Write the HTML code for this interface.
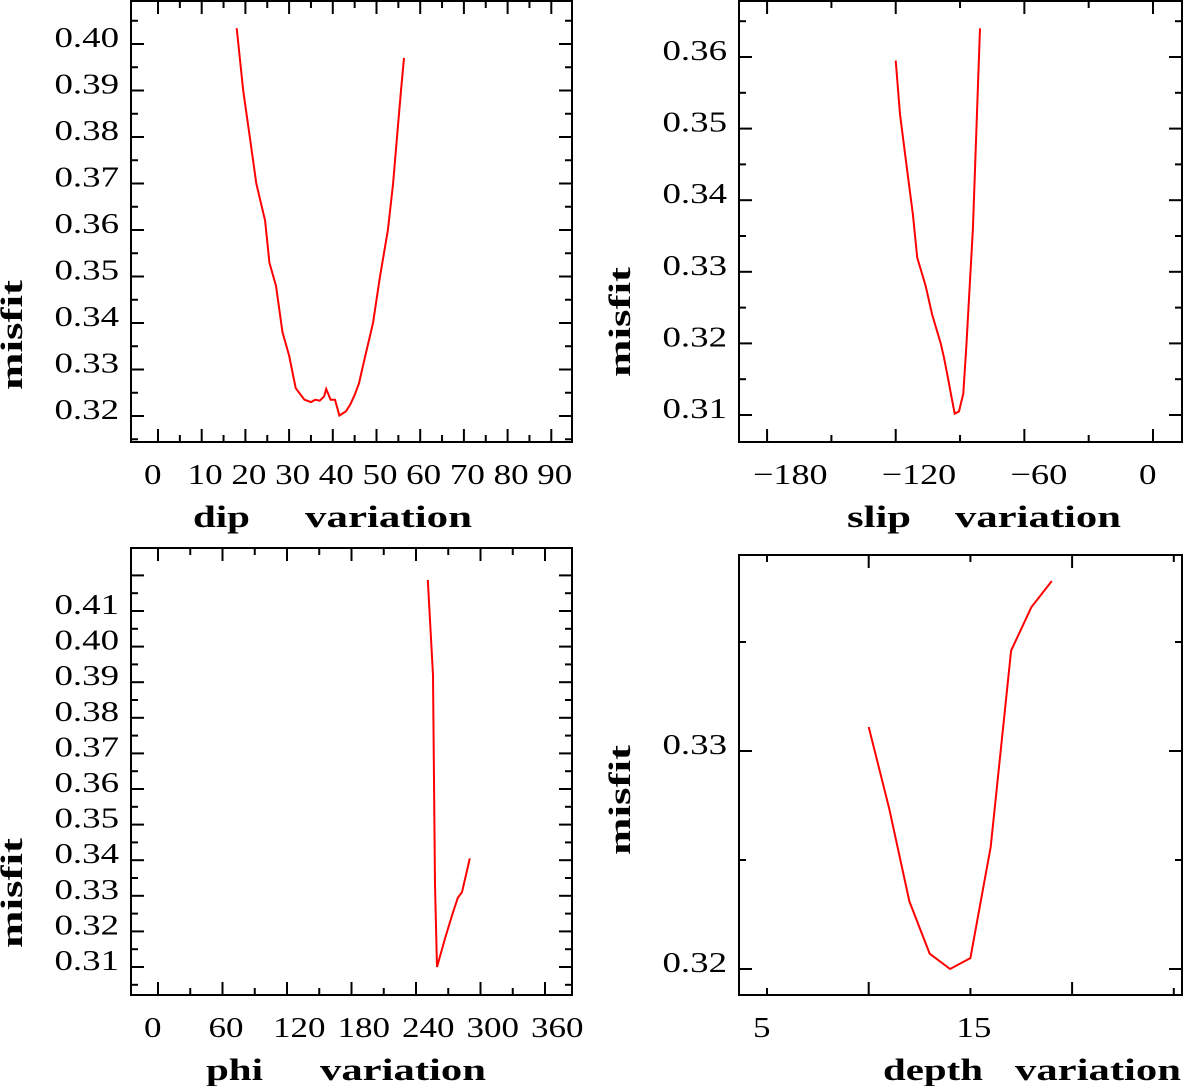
<!DOCTYPE html>
<html><head><meta charset="utf-8"><style>
html,body{margin:0;padding:0;background:#fff}
svg{display:block}
text{font-family:"Liberation Serif",serif;fill:#000}
.tl{font-size:29px}
.tt{font-size:31px;font-weight:bold}
</style></head><body>
<svg id="chart" width="1183" height="1086" viewBox="0 0 1183 1086" xmlns="http://www.w3.org/2000/svg"></svg>
<script>
// ---- Data ----
const dipX = [18,19.5,21,22.5,24.5,25.5,27,28.5,30,31.5,33.5,35,36,37,38,38.5,39.5,40.5,41.5,43,44,45,46,46.7,49.2,50.8,52.6,53.8,54.7,55.6,56.3];
const dipY = [0.4034,0.390,0.380,0.370,0.362,0.353,0.348,0.338,0.333,0.326,0.3235,0.3230,0.3235,0.3233,0.3242,0.3258,0.3235,0.3235,0.3201,0.3210,0.3225,0.3245,0.3270,0.330,0.340,0.350,0.360,0.370,0.380,0.390,0.397];
const slipX = [-120,-118,-115,-112,-110,-106,-103,-99,-97.5,-95.5,-94,-92.5,-90.5,-88.5,-87,-84,-82,-80.7];
const slipY = [0.3595,0.352,0.345,0.338,0.332,0.328,0.324,0.320,0.318,0.315,0.3125,0.3102,0.3105,0.313,0.320,0.336,0.353,0.364];
const phiX = [251,255.8,257.7,259.5,267,274,279,282.8,290];
const phiY = [0.4187,0.392,0.333,0.310,0.318,0.325,0.3295,0.331,0.3405];
const depthX = [10,11,12,13,14,15,16,17,18,19];
const depthY = [0.3311,0.3274,0.3231,0.3207,0.3200,0.3205,0.3256,0.3346,0.3366,0.3378];
const dipTicks = [0,10,20,30,40,50,60,70,80,90];
const dipYTicks = [0.40,0.39,0.38,0.37,0.36,0.35,0.34,0.33,0.32];
const slipTicks = [-180,-120,-60,0];
const slipYTicks = [0.36,0.35,0.34,0.33,0.32,0.31];
const phiTicks = [0,60,120,180,240,300,360];
const phiYTicks = [0.41,0.40,0.39,0.38,0.37,0.36,0.35,0.34,0.33,0.32,0.31];
const depthTicks = [5,15];
const depthYTicks = [0.33,0.32];

const svg = document.getElementById('chart');
const NS = 'http://www.w3.org/2000/svg';
function el(tag, attrs, parent){
  const e = document.createElementNS(NS, tag);
  for (const k in attrs) e.setAttribute(k, attrs[k]);
  (parent||svg).appendChild(e);
  return e;
}
function labelLen(s){
  let w = 0;
  for (const c of s) w += (c === '.') ? 12 : (c === '\u2212' ? 22 : 17.5);
  return w;
}
function panel(p){
  const g = el('g', {});
  
  
  const sx = v => p.x0px + (v - p.x0v) * p.pxX;
  const sy = v => p.y0px - (v - p.y0v) * p.pxY;
  const box = el('rect', {x:p.L, y:p.T, width:p.R-p.L, height:p.B-p.T, fill:'none', stroke:'#000', 'stroke-width':2}, g);
  
  
  for (let v = p.xMin; v <= p.xMax + 1e-9; v += p.xMinor) {
    const X = sx(v);
    if (X < p.L + 2 || X > p.R - 2) continue;
    const major = Math.abs(v / p.xMajor - Math.round(v / p.xMajor)) < 1e-6;
    const len = major ? 13 : 7;
    el('line', {x1:X, x2:X, y1:p.B, y2:p.B - len, stroke:'#000', 'stroke-width':2}, g);
    el('line', {x1:X, x2:X, y1:p.T, y2:p.T + len, stroke:'#000', 'stroke-width':2}, g);
  }
  for (let v = p.yMin; v <= p.yMax + 1e-9; v += p.yMinor) {
    const Y = sy(v);
    if (Y < p.T + 2 || Y > p.B - 2) continue;
    const major = Math.abs(v / p.yMajor - Math.round(v / p.yMajor)) < 1e-6;
    const len = major ? 13 : 7;
    el('line', {x1:p.L, x2:p.L + len, y1:Y, y2:Y, stroke:'#000', 'stroke-width':2}, g);
    el('line', {x1:p.R, x2:p.R - len, y1:Y, y2:Y, stroke:'#000', 'stroke-width':2}, g);
  }
  p.xTicks.forEach(v => {
    const s = String(v).replace('-', '\u2212');
    const t = el('text', {x:sx(v) - 14, y:p.B + 42, class:'tl', textLength:labelLen(s), lengthAdjust:'spacingAndGlyphs'}, g);
    t.textContent = s;
    
    
  });
  p.yTicks.forEach(v => {
    const s = v.toFixed(2);
    const L = labelLen(s);
    const t = el('text', {x:p.L - 12 - L, y:sy(v) + 3, class:'tl', textLength:L, lengthAdjust:'spacingAndGlyphs'}, g);
    t.textContent = s;
    
    
  });
  const d = p.xs.map((v, i) => (i ? 'L' : 'M') + sx(v).toFixed(1) + ' ' + sy(p.ys[i]).toFixed(1)).join(' ');
  const line = el('path', {d:d, fill:'none', stroke:'#ff0000', 'stroke-width':2}, g);
  
  
  const yt = el('text', {x:-55, y:0, class:'tt', textLength:110, lengthAdjust:'spacingAndGlyphs', transform:'translate(' + p.ytX + ',' + p.ytY + ') rotate(-90)'}, g);
  yt.textContent = 'misfit';
  
  
  p.xt.forEach(w => {
    const t = el('text', {x:w[1], y:p.B + 85, class:'tt', textLength:w[2], lengthAdjust:'spacingAndGlyphs'}, g);
    t.textContent = w[0];
    
    
  });
}
panel({name:'dip-panel', L:131, R:572, T:1, B:442, x0v:0, x0px:158, pxX:4.37, y0v:0.32, y0px:416, pxY:4650,
  xMin:0, xMax:95, xMinor:5, xMajor:10, yMin:0.315, yMax:0.41, yMinor:0.005, yMajor:0.01,
  xTicks:dipTicks, yTicks:dipYTicks, xs:dipX, ys:dipY, ytX:22, ytY:335, xt:[['dip',193,57],['variation',305,167]]});
panel({name:'slip-panel', L:739, R:1182, T:1, B:442, x0v:0, x0px:1153, pxX:2.144, y0v:0.31, y0px:415, pxY:7160,
  xMin:-210, xMax:10, xMinor:30, xMajor:60, yMin:0.305, yMax:0.37, yMinor:0.005, yMajor:0.01,
  xTicks:slipTicks, yTicks:slipYTicks, xs:slipX, ys:slipY, ytX:630, ytY:322, xt:[['slip',847,64],['variation',955,166]]});
panel({name:'phi-panel', L:131, R:572, T:548, B:995, x0v:0, x0px:158, pxX:1.075, y0v:0.31, y0px:967, pxY:3560,
  xMin:0, xMax:380, xMinor:30, xMajor:60, yMin:0.305, yMax:0.42, yMinor:0.005, yMajor:0.01,
  xTicks:phiTicks, yTicks:phiYTicks, xs:phiX, ys:phiY, ytX:22, ytY:893, xt:[['phi',206,57],['variation',320,166]]});
panel({name:'depth-panel', L:739, R:1182, T:555, B:995, x0v:5, x0px:767, pxX:20.34, y0v:0.32, y0px:969, pxY:21800,
  xMin:0, xMax:30, xMinor:5, xMajor:10, yMin:0.315, yMax:0.34, yMinor:0.005, yMajor:0.01,
  xTicks:depthTicks, yTicks:depthYTicks, xs:depthX, ys:depthY, ytX:630, ytY:800, xt:[['depth',883,100],['variation',1015,166]]});
</script>
</body></html>
